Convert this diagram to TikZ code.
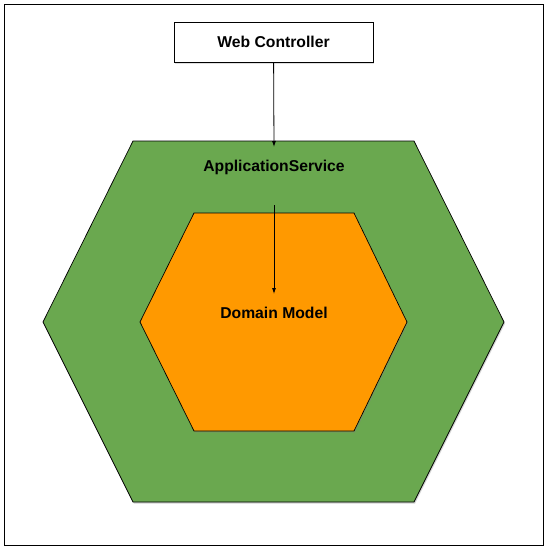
\documentclass[tikz,border=0pt]{standalone}
\usepackage{fontspec}
\setmainfont{Liberation Sans}
\usepackage{tikz}
\usetikzlibrary{arrows.meta, shadows}
\definecolor{appgreen}{RGB}{106,168,79}
\definecolor{domorange}{RGB}{255,153,0}

\begin{document}
\begin{tikzpicture}[
            x=1pt, y=-1pt,
            >={Latex[width=4pt,length=6pt]},
                base/.style = {rectangle, draw=black, line width=0.8pt,
                            text centered, font=\fontsize{15.7}{18}\selectfont\bfseries},
                frame/.style = {draw=black, line width=1pt, fill=white,
                            drop shadow={shadow xshift=1pt, shadow yshift=-1pt, opacity=0.15}},
                controller/.style = {base, fill=white, minimum width=199pt,
                            minimum height=40pt, inner sep=0pt,
                            drop shadow={shadow xshift=1pt, shadow yshift=-1.5pt, opacity=0.25}},
                layer/.style = {draw=black, line width=0.7pt,
                            drop shadow={shadow xshift=1pt, shadow yshift=-1.5pt, opacity=0.35}},
                label/.style = {font=\fontsize{15.7}{18}\selectfont\bfseries, inner sep=0pt}]
            \useasboundingbox (0,0) rectangle (548,550);
            \draw[frame] (4,4) rectangle (543,545);
            % outer layer
            \draw[layer, fill=appgreen] (133,141) -- (414,141) -- (504,322)
                -- (414,502) -- (133,502) -- (43,322) -- cycle;
            % inner layer
            \draw[layer, fill=domorange] (194,213) -- (354,213) -- (407,322)
                -- (354,431) -- (194,431) -- (140,322) -- cycle;
            \node (web) [controller] at (273.5,42) {
                Web Controller
            };
            \node (app) [label] at (274,167) {
                ApplicationService
            };
            \node (dom) [label] at (274,313) {
                Domain Model
            };
            \coordinate (appin) at (274,147);
            \coordinate (appout) at (274,205);
            \coordinate (domin) at (274,294);
            \draw[->, line width=0.8pt] (web) -- (appin);
            \draw[->, line width=0.8pt] (appout) -- (domin);
        \end{tikzpicture}
\end{document}
